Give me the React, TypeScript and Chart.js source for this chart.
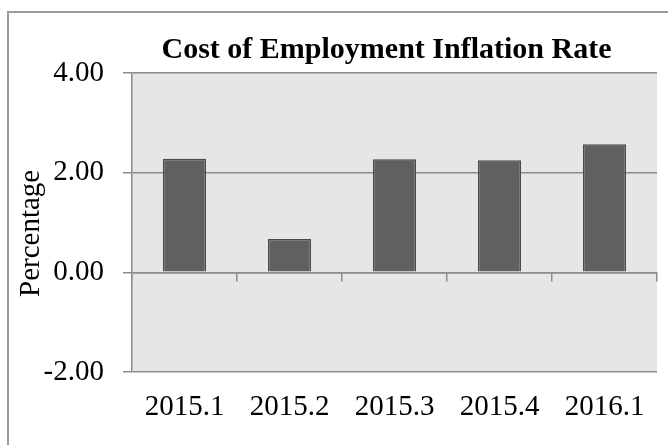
import React, { useEffect, useRef } from 'react';
import { Chart, registerables } from 'chart.js';

Chart.register(...registerables);

const categories = ['2015.1', '2015.2', '2015.3', '2015.4', '2016.1'];
const rateValues = [2.28, 0.67, 2.27, 2.25, 2.57];
const yMin = -2;
const yMax = 4;
const yStep = 2;
const chartTitle = 'Cost of Employment Inflation Rate';
const yAxisTitle = 'Percentage';

const GRID = '#8c8c8c';
const FONT = "'Liberation Serif', 'Times New Roman', serif";

const plotBg = {
  id: 'plotBg',
  beforeDraw(chart: any) {
    const { ctx, chartArea: a } = chart;
    ctx.save();
    ctx.fillStyle = '#e6e6e6';
    ctx.fillRect(a.left, a.top, a.right - a.left, a.bottom - a.top);
    ctx.restore();
  },
};

// widen the title box a little to the left so the title centres like the original
const titleBox = {
  id: 'titleBox',
  afterLayout(chart: any) {
    const t = chart.titleBlock;
    if (t) {
      t.left = chart.chartArea.left - 16;
    }
  },
};

export default function App() {
  const ref = useRef<HTMLCanvasElement>(null);

  useEffect(() => {
    if (!ref.current) return;
    const chart = new Chart(ref.current, {
      type: 'bar',
      data: {
        labels: categories,
        datasets: [
          {
            data: rateValues,
            backgroundColor: '#606060',
            borderColor: '#4a4a4a',
            borderWidth: 1.5,
            barPercentage: 0.41,
            categoryPercentage: 1,
          },
        ],
      },
      options: {
        responsive: false,
        devicePixelRatio: 1,
        animation: false,
        layout: { padding: { left: 0, right: 11, top: 0, bottom: 0 } },
        plugins: {
          legend: { display: false },
          tooltip: { enabled: false },
          title: {
            display: true,
            fullSize: false,
            text: chartTitle,
            color: '#000',
            font: { family: FONT, size: 30, weight: 'bold' },
            padding: { top: 32, bottom: 5 },
          },
        },
        scales: {
          x: {
            type: 'category',
            position: 'bottom',
            offset: true,
            grid: { display: false, drawTicks: false },
            border: { display: false },
            ticks: {
              color: '#000',
              font: { family: FONT, size: 29 },
              padding: 17.5,
              maxRotation: 0,
              autoSkip: false,
            },
            afterFit(s: any) {
              s.height = 73;
            },
          },
          x2: {
            type: 'category',
            axis: 'x',
            position: { y: 0 },
            offset: true,
            grid: {
              offset: true,
              drawOnChartArea: false,
              drawTicks: true,
              tickLength: 8,
              color: GRID,
              lineWidth: 1.5,
            },
            border: { display: true, color: GRID, width: 1.5 },
            ticks: { display: false },
          },
          y: {
            type: 'linear',
            min: yMin,
            max: yMax,
            ticks: {
              stepSize: yStep,
              color: '#000',
              font: { family: FONT, size: 29 },
              padding: 19,
              callback: (v: any) => Number(v).toFixed(2),
            },
            grid: {
              color: GRID,
              lineWidth: 1.5,
              drawTicks: true,
              tickLength: 9,
            },
            border: { display: true, color: GRID, width: 1.5 },
            title: {
              display: true,
              text: yAxisTitle + '\u00A0\u00A0\u00A0',
              color: '#000',
              font: { family: FONT, size: 29 },
              padding: { top: 14, bottom: 0 },
            },
            afterFit(s: any) {
              s.width = 132;
            },
          },
        },
      } as any,
      plugins: [plotBg, titleBox],
    });
    return () => chart.destroy();
  }, []);

  return (
    <>
      <div
        style={{
          position: 'fixed',
          left: 7,
          top: 11,
          width: 800,
          height: 600,
          border: '2px solid #9a9a9a',
          boxSizing: 'border-box',
        }}
      />
      <div style={{ position: 'fixed', left: 0, top: 0, width: 668, height: 445 }}>
        <canvas ref={ref} width={668} height={445} style={{ display: 'block' }} />
      </div>
    </>
  );
}
